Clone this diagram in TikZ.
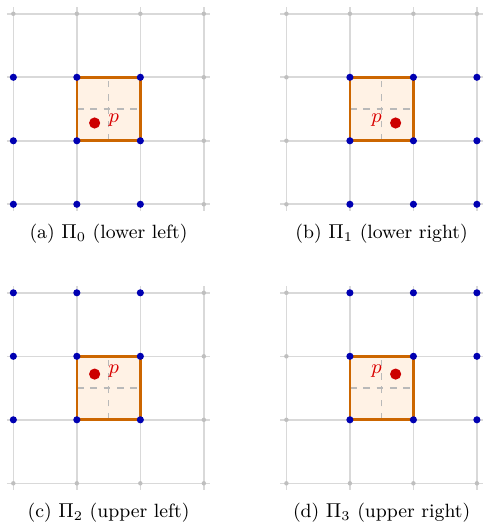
\documentclass[tikz,border=0pt]{standalone}
\usepackage{amsmath}
\usepackage{amssymb}
\usepackage{tikz}
\usepackage{xcolor}

\tikzset{
    gridline/.style={gray!30, line width=0.7pt},
    cellbox/.style={orange!80!black, line width=1.2pt},
    midline/.style={gray!55, dashed, line width=0.5pt},
    farpt/.style={circle, fill=gray!50, inner sep=0pt, minimum size=2pt},
    nearpt/.style={circle, fill=blue!70!black, inner sep=0pt, minimum size=3.2pt},
    pdot/.style={circle, fill=red!80!black, inner sep=0pt, minimum size=5pt},
    ptext/.style={text=red!85!black, font=\small},
    captext/.style={font=\fontsize{8.6}{10}\selectfont}
}

\begin{document}
\begin{tikzpicture}
    \useasboundingbox (0,0) rectangle (7.732,8.362);
\foreach \ox/\oy/\ci/\cj/\px/\py/\side/\anc/\cap in {
    0.21/5.145/0/0/1.28/1.28/east/west/{(a) $\Pi_0$ (lower left)},
    4.51/5.145/1/0/1.72/1.28/west/east/{(b) $\Pi_1$ (lower right)},
    0.21/0.751/0/1/1.28/1.72/east/west/{(c) $\Pi_2$ (upper left)},
    4.51/0.751/1/1/1.72/1.72/west/east/{(d) $\Pi_3$ (upper right)}}{
\begin{scope}[shift={(\ox,\oy)}]
    % lattice
    \foreach \k in {0,...,3}{
        \draw[gridline] (-0.1,\k)--(3.1,\k);
        \draw[gridline] (\k,-0.1)--(\k,3.1);
    }
    % the cell that holds p
    \fill[orange!10] (1,1) rectangle (2,2);
    \draw[midline] (1.5,1)--(1.5,2);
    \draw[midline] (1,1.5)--(2,1.5);
    \draw[cellbox] (1,1) rectangle (2,2);
    % stencil points
    \foreach \i in {0,...,3}{
        \foreach \j in {0,...,3}{
            \pgfmathtruncatemacro{\inside}{and(and(\i>=\ci,\i<=\ci+2),and(\j>=\cj,\j<=\cj+2))}
            \ifnum\inside=1
                \node[nearpt] (G\i\j) at (\i,\j) {};
            \else
                \node[farpt] (G\i\j) at (\i,\j) {};
            \fi
        }
    }
    \node[pdot] (P) at (\px,\py) {};
    \node[ptext, anchor=\anc, yshift=1.5pt] (Plab) at (P.\side) {$p$};
    \node[captext] (cap) at (1.5,-0.47) {\cap};
\end{scope}
}
\end{tikzpicture}
\end{document}
